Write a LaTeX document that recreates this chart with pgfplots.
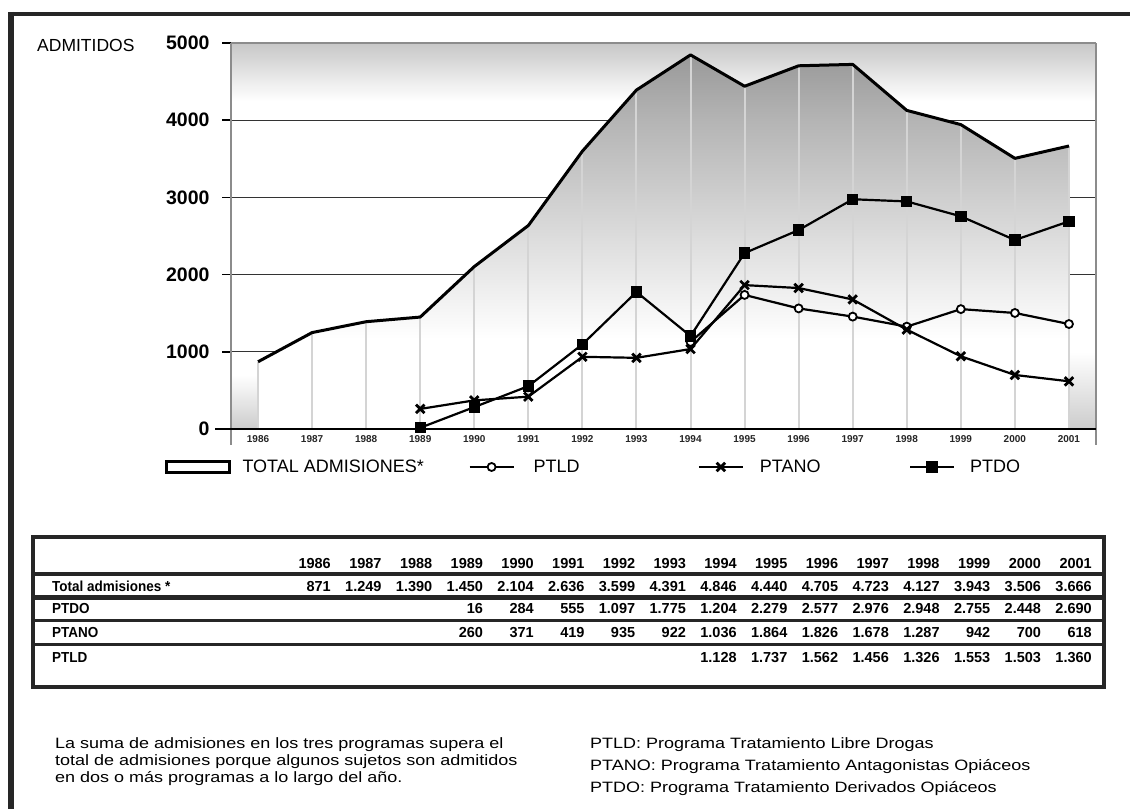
\documentclass[border=0pt]{standalone}
\usepackage{fontspec}
\setmainfont{Liberation Sans}
\newfontfamily\notefont{Liberation Sans}[FakeStretch=1.2]
\newfontfamily\tablab{Liberation Sans}[FakeStretch=0.93]
\usepackage{pgfplots}
\pgfplotsset{compat=1.18}
\usepackage{pgfplotstable}
\pgfkeys{/pgf/number format/1000 sep={}}
\pgfdeclareverticalshading{whiteshade}{100bp}{color(0bp)=(white); color(100bp)=(white)}
\pgfplotsset{
  leglinestyle/.style={legend image code/.code={\draw[##1,mark repeat=2,mark phase=2] plot coordinates {(0pt,0pt) (22pt,0pt) (44pt,0pt)};}},
  legboxstyle/.style={legend image code/.code={\draw[line width=2.5pt, black, shading=whiteshade] (0pt,-5.5pt) rectangle (63pt,5.5pt);}},
}

\pgfplotstableread{
year total
1986 871
1987 1249
1988 1390
1989 1450
1990 2104
1991 2636
1992 3599
1993 4391
1994 4846
1995 4440
1996 4705
1997 4723
1998 4127
1999 3943
2000 3506
2001 3666
}\totaltab
\pgfplotstableread{
year v
1989 16
1990 284
1991 555
1992 1097
1993 1775
1994 1204
1995 2279
1996 2577
1997 2976
1998 2948
1999 2755
2000 2448
2001 2690
}\ptdotab
\pgfplotstableread{
year v
1989 260
1990 371
1991 419
1992 935
1993 922
1994 1036
1995 1864
1996 1826
1997 1678
1998 1287
1999 942
2000 700
2001 618
}\ptanotab
\pgfplotstableread{
year v
1994 1128
1995 1737
1996 1562
1997 1456
1998 1326
1999 1553
2000 1503
2001 1360
}\ptldtab

\pgfdeclareverticalshading{areashade}{100bp}{color(0bp)=(white); color(25bp)=(white); color(37bp)=(white); color(46bp)=(black!9); color(56bp)=(black!19); color(66bp)=(black!29); color(75bp)=(black!40); color(100bp)=(black!40)}

\begin{document}
\begin{tikzpicture}
\useasboundingbox (0,0) rectangle (1130pt,-809pt);
\fill[white] (0,0) rectangle (1130pt,-809pt);
\draw[line width=4.5pt, black!85] (8pt,-14pt) -- (1130pt,-14pt);
\draw[line width=5.5pt, black!85] (11pt,-11.75pt) -- (11pt,-809pt);
\node[anchor=west, font=\fontsize{17.5}{18}\selectfont, inner sep=0pt] at (37pt,-45pt) {ADMITIDOS};

\begin{axis}[
  at={(231pt,-429pt)}, anchor=south west,
  width=865pt, height=386pt, scale only axis,
  xmin=1985.5, xmax=2001.5, ymin=0, ymax=5000,
  axis line style={draw=none},
  clip=false,
  xtick={1986,...,2001}, xtick pos=bottom,
  x tick style={draw=none},
  xticklabel style={font=\fontsize{10}{10}\selectfont\bfseries, text=black!85, yshift=6pt},
  ytick={0,1000,2000,3000,4000,5000}, ytick pos=left,
  y tick style={black, line width=1.5pt},
  tick align=outside, major tick length=9pt,
  yticklabel style={font=\fontsize{19.5}{20}\selectfont\bfseries, xshift=-9pt},
  /pgf/number format/assume math mode=true,
  ymajorgrids, grid style={black!80, line width=1.3pt},
  legend columns=4,
  legend style={at={(-0.0763,-0.0984)}, anchor=west, draw=none, fill=none,
    inner sep=0pt, outer sep=0pt, column sep=0pt,
    nodes={inner sep=0pt, font=\fontsize{18}{18}\selectfont}},
]
\fill[top color=black!22, bottom color=white] (axis cs:1985.5,4250) rectangle (axis cs:2001.5,5000);
\fill[top color=white, bottom color=black!20] (axis cs:1985.5,0) rectangle (axis cs:1986,700);
\fill[top color=white, bottom color=black!20] (axis cs:2001,0) rectangle (axis cs:2001.5,1000);

\addplot[draw=none, shade, shading=areashade, legboxstyle]
  table[x=year,y=total]{\totaltab} \closedcycle;
\addlegendentry{\hspace*{12pt}\makebox[226pt][l]{TOTAL ADMISIONES*}}

\addplot[forget plot, ycomb, draw=black!17, line width=2pt] table[x=year,y=total]{\totaltab};
\addplot[forget plot, black, line width=3pt, line join=round] table[x=year,y=total]{\totaltab};

\addplot[black, line width=2.2pt, mark=*, mark size=4pt, mark options={fill=white, draw=black, line width=1.8pt}, leglinestyle]
  table[x=year,y=v]{\ptldtab};
\addlegendentry{\hspace*{19pt}\makebox[164pt][l]{PTLD}}

\addplot[black, line width=2.2pt, mark=x, mark size=6pt, mark options={line width=2.8pt}, leglinestyle]
  table[x=year,y=v]{\ptanotab};
\addlegendentry{\hspace*{16pt}\makebox[149pt][l]{PTANO}}

\addplot[black, line width=2.2pt, mark=square*, mark size=4.6pt, leglinestyle]
  table[x=year,y=v]{\ptdotab};
\addlegendentry{\hspace*{15pt}PTDO}

\draw[black!45, line width=1.3pt] (axis cs:1985.5,5000) -- (axis cs:2001.5,5000);
\draw[black!45, line width=1.3pt] (axis cs:1985.5,5000) -- (axis cs:1985.5,0) -- ++(0pt,-16pt);
\draw[black!45, line width=1.3pt] (axis cs:2001.5,5000) -- (axis cs:2001.5,0) -- ++(0pt,-16pt);
\draw[black, line width=2pt] (axis cs:1985.5,0) ++(-16pt,0pt) -- (axis cs:2001.5,0);
\end{axis}

% ---- data table ----
\begin{scope}[line width=3pt, draw=black!85]
\draw[line width=4pt] (33pt,-537pt) rectangle (1104pt,-687pt);
\draw[line width=4pt] (33pt,-574pt) -- (1104pt,-574pt);
\draw[line width=5pt] (33pt,-597pt) -- (1104pt,-597pt);
\draw (33pt,-620pt) -- (1104pt,-620pt);
\draw (33pt,-644pt) -- (1104pt,-644pt);
\end{scope}
\begin{scope}[every node/.style={inner sep=0pt, anchor=base east, font=\fontsize{14.5}{15}\selectfont\bfseries}]
\foreach \v [count=\i from 0] in {1986,1987,1988,1989,1990,1991,1992,1993,1994,1995,1996,1997,1998,1999,2000,2001}
  \node at ({(331+\i*50.73)*1pt},-568pt) {\v};
\foreach \v [count=\i from 0] in {871,1.249,1.390,1.450,2.104,2.636,3.599,4.391,4.846,4.440,4.705,4.723,4.127,3.943,3.506,3.666}
  \node at ({(331+\i*50.73)*1pt},-591.5pt) {\v};
\foreach \v [count=\i from 3] in {16,284,555,1.097,1.775,1.204,2.279,2.577,2.976,2.948,2.755,2.448,2.690}
  \node at ({(331+\i*50.73)*1pt},-613.5pt) {\v};
\foreach \v [count=\i from 3] in {260,371,419,935,922,1.036,1.864,1.826,1.678,1.287,942,700,618}
  \node at ({(331+\i*50.73)*1pt},-637pt) {\v};
\foreach \v [count=\i from 8] in {1.128,1.737,1.562,1.456,1.326,1.553,1.503,1.360}
  \node at ({(331+\i*50.73)*1pt},-662pt) {\v};
\end{scope}
\begin{scope}[every node/.style={inner sep=0pt, anchor=base west, font=\fontsize{14.5}{15}\selectfont\tablab\bfseries}]
\node at (52pt,-591.5pt) {Total admisiones *};
\node at (52pt,-613.5pt) {PTDO};
\node at (52pt,-637pt) {PTANO};
\node at (52pt,-662pt) {PTLD};
\end{scope}

% ---- notes ----
\begin{scope}[every node/.style={inner sep=0pt, anchor=west, font=\fontsize{15}{17}\selectfont\notefont}]
\node at (55pt,-745pt) {La suma de admisiones en los tres programas supera el};
\node at (55pt,-762pt) {total de admisiones porque algunos sujetos son admitidos};
\node at (55pt,-779pt) {en dos o más programas a lo largo del año.};
\node at (590pt,-745pt) {PTLD: Programa Tratamiento Libre Drogas};
\node at (590pt,-767pt) {PTANO: Programa Tratamiento Antagonistas Opiáceos};
\node at (590pt,-789pt) {PTDO: Programa Tratamiento Derivados Opiáceos};
\end{scope}
\end{tikzpicture}
\end{document}
